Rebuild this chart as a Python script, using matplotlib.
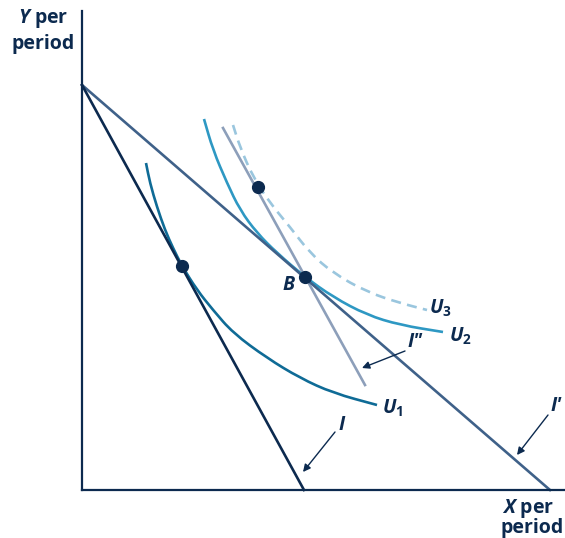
import matplotlib
matplotlib.use("Agg")
import matplotlib.pyplot as plt
from matplotlib.path import Path
from matplotlib.patches import PathPatch

plt.rcParams['font.family'] = ['Open Sans', 'DejaVu Sans']
plt.rcParams['mathtext.fontset'] = 'custom'
plt.rcParams['mathtext.bf'] = 'Open Sans:bold'
plt.rcParams['mathtext.it'] = 'Open Sans:italic:bold'
plt.rcParams['mathtext.rm'] = 'Open Sans:bold'

# ---- data ----
budget_I_x = [0.0, 5.55]
budget_I_y = [10.125, 0.0]
budget_I1_x = [0.0, 11.7]
budget_I1_y = [10.125, 0.0]
budget_I2_x = [3.525, 7.075]
budget_I2_y = [9.05, 2.625]

u1_x = [1.60, 1.70, 1.875, 2.075, 2.275, 2.50, 2.875, 3.275, 3.775, 4.625, 5.45, 6.275, 7.375]
u1_y = [8.175, 7.675, 7.075, 6.50, 6.05, 5.60, 5.00, 4.50, 3.925, 3.30, 2.80, 2.425, 2.125]
u2_x = [3.05, 3.275, 3.625, 3.95, 4.375, 4.875, 5.575, 6.275, 7.125, 7.95, 9.025]
u2_y = [9.275, 8.50, 7.675, 7.00, 6.425, 5.925, 5.325, 4.825, 4.375, 4.125, 3.95]
u3_x = [3.775, 3.95, 4.275, 4.70, 5.20, 5.70, 6.275, 7.125, 7.95, 8.625]
u3_y = [9.125, 8.575, 7.825, 7.175, 6.575, 5.925, 5.425, 4.95, 4.675, 4.50]

points_x = [2.5, 5.575, 4.4]
points_y = [5.6, 5.325, 7.575]

# ---- colours ----
NAVY = '#0c2a4f'
SLATE = '#3f6189'
GREYBLUE = '#8d9fba'
TEAL1 = '#0f6b96'
TEAL2 = '#2e98c3'
LIGHT = '#9ac6de'

W, H = 565, 538
fig = plt.figure(figsize=(W / 100, H / 100), dpi=100)
x0, y0 = 82, 490
xmax_px, ymax_px = 564, 11
ax = fig.add_axes([x0 / W, (H - y0) / H, (xmax_px - x0) / W, (y0 - ymax_px) / H])
ax.set_xlim(0, (xmax_px - x0) / 40)
ax.set_ylim(0, (y0 - ymax_px) / 40)
for s in ['top', 'right']:
    ax.spines[s].set_visible(False)
for s in ['left', 'bottom']:
    ax.spines[s].set_color(NAVY)
    ax.spines[s].set_linewidth(1.6)
ax.set_xticks([])
ax.set_yticks([])
ax.patch.set_alpha(0)


def smooth_curve(xs, ys, **kw):
    """Draw a smooth quadratic-Bezier path through the read points."""
    pts = list(zip(xs, ys))
    verts = [pts[0]]
    codes = [Path.MOVETO]
    mids = [((pts[i][0] + pts[i + 1][0]) / 2, (pts[i][1] + pts[i + 1][1]) / 2)
            for i in range(len(pts) - 1)]
    verts.append(mids[0]); codes.append(Path.LINETO)
    for i in range(1, len(pts) - 1):
        verts += [pts[i], mids[i]]
        codes += [Path.CURVE3, Path.CURVE3]
    verts.append(pts[-1]); codes.append(Path.LINETO)
    patch = PathPatch(Path(verts, codes), fill=False, clip_on=False, **kw)
    ax.add_patch(patch)
    return patch


lw = 1.9
smooth_curve(u3_x, u3_y, edgecolor=LIGHT, lw=lw, linestyle=(0, (3.8, 2.4)), capstyle='butt')
smooth_curve(u2_x, u2_y, edgecolor=TEAL2, lw=lw)
smooth_curve(u1_x, u1_y, edgecolor=TEAL1, lw=lw)
ax.plot(budget_I2_x, budget_I2_y, color=GREYBLUE, lw=lw, clip_on=False)
ax.plot(budget_I1_x, budget_I1_y, color=SLATE, lw=lw, clip_on=False)
ax.plot(budget_I_x, budget_I_y, color=NAVY, lw=lw, clip_on=False)
ax.plot(points_x, points_y, 'o', color=NAVY, ms=8.5, clip_on=False, zorder=5)

fs = 14
tkw = dict(color=NAVY, fontsize=fs, fontweight='bold')
ax.text(5.175, 5.12, 'B', ha='center', va='center', fontstyle='italic', **tkw)
ax.text(7.5, 2.05, r'$\mathit{U}_{\mathbf{1}}$', ha='left', va='center', **tkw)
ax.text(9.18, 3.85, r'$\mathit{U}_{\mathbf{2}}$', ha='left', va='center', **tkw)
ax.text(8.68, 4.55, r'$\mathit{U}_{\mathbf{3}}$', ha='left', va='center', **tkw)
ax.text(8.33, 3.7, 'I\u2033', ha='center', va='center', fontstyle='italic', **tkw)
ax.text(6.5, 1.62, 'I', ha='center', va='center', fontstyle='italic', **tkw)
ax.text(11.85, 2.1, 'I\u2032', ha='center', va='center', fontstyle='italic', **tkw)

akw = dict(arrowstyle='-|>', color=NAVY, lw=1.0, mutation_scale=11, shrinkA=0, shrinkB=0)
ax.annotate('', xy=(7.0, 3.05), xytext=(8.075, 3.475), arrowprops=akw, annotation_clip=False)
ax.annotate('', xy=(5.525, 0.45), xytext=(6.325, 1.45), arrowprops=akw, annotation_clip=False)
ax.annotate('', xy=(10.875, 0.875), xytext=(11.65, 1.875), arrowprops=akw, annotation_clip=False)

# axis titles
fig.text(43 / W, 1 - 18 / H, r'$\mathit{Y}$ per', ha='center', va='center', **tkw)
fig.text(43 / W, 1 - 44 / H, 'period', ha='center', va='center', **tkw)
fig.text(528 / W, 1 - 508 / H, r'$\mathit{X}$ per', ha='center', va='center', **tkw)
fig.text(532 / W, 1 - 528 / H, 'period', ha='center', va='center', **tkw)

fig.savefig('out.png', dpi=100)
